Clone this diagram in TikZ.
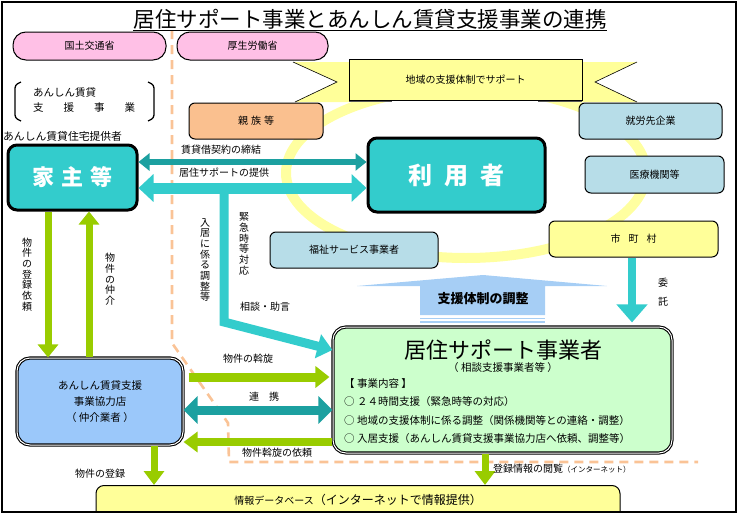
\documentclass[tikz,border=0pt]{standalone}
\usepackage{fontspec}
\setmainfont{Noto Sans CJK JP}
\usetikzlibrary{arrows.meta,calc}
\definecolor{pinkbox}{RGB}{255,192,230}
\definecolor{peach}{RGB}{250,192,143}
\definecolor{grayblue}{RGB}{183,221,232}
\definecolor{lyellow}{RGB}{255,255,153}
\definecolor{ringyel}{RGB}{255,255,160}
\definecolor{tealA}{RGB}{51,204,204}
\definecolor{tealB}{RGB}{28,160,160}
\definecolor{lgreen}{RGB}{204,255,204}
\definecolor{lblue}{RGB}{155,200,250}
\definecolor{adjblue}{RGB}{166,206,245}
\definecolor{ygreen}{RGB}{153,204,0}
\definecolor{dashor}{RGB}{250,195,150}
\begin{document}
\begin{tikzpicture}[x=1pt,y=-1pt,
  box/.style={draw=black, line width=1pt, rounded corners=6pt, inner sep=0pt, align=center, font=\fontsize{10}{12}\selectfont},
  pinkb/.style={box, fill=pinkbox, rounded corners=13pt, minimum width=#1, minimum height=28pt},
  bigbox/.style={draw=black, line width=3pt, rounded corners=9pt, fill=tealA, text=white, inner sep=0pt, font=\fontsize{22}{24}\selectfont\bfseries},
  dbl/.style={draw=black, line width=1.1pt, double=white, double distance=1pt, rounded corners=13pt, inner sep=0pt, align=center},
  lbl/.style={inner sep=0pt, font=\fontsize{10}{12}\selectfont},
  vlbl/.style={inner sep=0pt, align=center, font=\fontsize{10}{10.7}\selectfont},
  garrow/.style={draw=ygreen, line width=#1},
  tip/.style 2 args={-{Triangle[width=#1,length=#2]}},
  dtip/.style 2 args={{Triangle[width=#1,length=#2]}-{Triangle[width=#1,length=#2]}},
]
\useasboundingbox (0,0) rectangle (739,514);

% supporting ring
\draw[ringyel, line width=10pt] (466,173) ellipse [x radius=180, y radius=85];

% dashed boundary
\draw[dashor, line width=2.6pt, dash pattern=on 9pt off 6pt] (172,30) -- (172,343) -- (228,423) -- (229,462) -- (698,462);

% title
\node[inner sep=0pt, font=\fontsize{21.5}{24}\selectfont] (title) at (370,19) {居住サポート事業とあんしん賃貸支援事業の連携};
\draw[line width=1pt] ([yshift=-3pt]title.base west) -- ([yshift=-3pt]title.base east);

% ministries
\node[pinkb=153pt] (mlit) at (89.5,46) {国土交通省};
\node[pinkb=151pt] (mhlw) at (252.5,46) {厚生労働省};

% bracket text
\node[inner sep=0pt, anchor=west, align=left, font=\fontsize{10.5}{15.5}\selectfont] (anshin) at (33,100) {あんしん賃貸\\支\hspace{20pt}援\hspace{20pt}事\hspace{20pt}業};
\draw[line width=1.3pt, rounded corners=3pt] (21,82) -- (15,85) -- (15,118) -- (21,121);
\draw[line width=1.3pt, rounded corners=3pt] (148,82) -- (154,85) -- (154,118) -- (148,121);
\node[inner sep=0pt, anchor=west, font=\fontsize{10.8}{12}\selectfont] (teikyo) at (3,136) {あんしん賃貸住宅提供者};

% ribbon
\fill[lyellow] (293,62) -- (349,62) -- (349,102) -- (295,102) -- (337,82) -- cycle;
\fill[lyellow] (582,62) -- (637,62) -- (595,82) -- (637,102) -- (582,102) -- cycle;
\draw[line width=0.6pt] (293,62) -- (337,82) -- (295,102);
\draw[line width=0.6pt] (637,62) -- (595,82) -- (637,102);
\draw[line width=1pt, gray!70!black] (349,101) -- (392,101) (538,101) -- (582,101);
\node[box, fill=lyellow, rounded corners=0pt, minimum width=233pt, minimum height=41pt] (ribbon) at (465.5,79.5) {地域の支援体制でサポート};

% surrounding boxes
\node[box, fill=peach, minimum width=134pt, minimum height=36pt] (shinzoku) at (256,121) {親\hspace{3pt}族\hspace{3pt}等};
\node[box, fill=grayblue, minimum width=143pt, minimum height=36pt] (shuro) at (650.5,121) {就労先企業};
\node[box, fill=grayblue, minimum width=139pt, minimum height=37pt] (iryo) at (654.5,174.5) {医療機関等};
\node[box, fill=lyellow, minimum width=169pt, minimum height=36pt] (shichoson) at (633.5,239) {市\hspace{8pt}町\hspace{8pt}村};
\node[box, fill=grayblue, minimum width=168pt, minimum height=36pt] (fukushi) at (354,250) {福祉サービス事業者};

% main boxes
\node[bigbox, minimum width=129pt, minimum height=65pt] (yanushi) at (72.5,177.5) {家\hspace{7pt}主\hspace{7pt}等};
\node[bigbox, minimum width=177pt, minimum height=74pt, font=\fontsize{24}{26}\selectfont\bfseries] (riyo) at (456.5,175) {利\hspace{12pt}用\hspace{12pt}者};

\node[dbl, fill=lgreen, minimum width=339pt, minimum height=126pt] (kyoju) at (502.5,390) {};
\node[inner sep=0pt, font=\fontsize{22}{24}\selectfont] (kyojuT) at (503,350) {居住サポート事業者};
\node[inner sep=0pt, font=\fontsize{10.5}{12}\selectfont] (kyojuS) at (503,368) {（ 相談支援事業者等 ）};
\node[inner sep=0pt, anchor=west, align=left, font=\fontsize{10.5}{18.4}\selectfont] (kyojuL) at (344,411) {【 事業内容 】\\○ ２４時間支援（緊急時等の対応）\\○ 地域の支援体制に係る調整（関係機関等との連絡・調整）\\○ 入居支援（あんしん賃貸支援事業協力店へ依頼、調整等）};

\node[dbl, fill=lblue, minimum width=166pt, minimum height=87pt, font=\fontsize{10.5}{16}\selectfont] (kyoryoku) at (100,401.5) {あんしん賃貸支援\\事業協力店\\（ 仲介業者 ）};

\begin{scope}
\clip (0,0) rectangle (739,511);
\node[box, fill=lyellow, rounded corners=8pt, minimum width=524pt, minimum height=46pt, anchor=north] (db) at (358,485) {};
\end{scope}
\node[inner sep=0pt] (dbT) at (358,500) {{\fontsize{10}{12}\selectfont 情報データベース}{\fontsize{12}{14}\selectfont （インターネットで情報提供）}};

% arrows yanushi - riyo
\coordinate (br) at (224,188);
\draw[tealA, line width=9pt, line join=miter, tip={24pt}{15pt}] (br) -- (224,322) -- (kyoju.west |- 0,350);
\draw[tealB, line width=6pt, dtip={17pt}{11pt}] (yanushi.east |- 0,162) -- (riyo.west |- 0,162);
\draw[tealA, line width=11pt, dtip={27pt}{15pt}] (yanushi.east |- 0,188) -- (riyo.west |- 0,188);
\node[lbl] (l1) at (221,150) {賃貸借契約の締結};
\node[lbl] (l2) at (224,173) {居住サポートの提供};
\node[vlbl] (l3) at (205,260) {入\\居\\に\\係\\る\\調\\整\\等};
\node[vlbl] (l4) at (244,244) {緊\\急\\時\\等\\対\\応};
\node[lbl] (l5) at (265,307) {相談・助言};

% itaku
\draw[tealA, line width=8pt, tip={30pt}{18pt}] (shichoson.south -| 632,0) -- ([yshift=4pt]kyoju.north -| 632,0);
\node[vlbl, font=\fontsize{10}{19}\selectfont] (itaku) at (663,292) {委\\託};

% adjustment arrow
\fill[adjblue] (357,286) -- (483,275) -- (607,286) -- (545,286) -- (545,315) -- (420,315) -- (420,286) -- cycle;
\draw[adjblue, line width=1.3pt] (420,318.5) -- (545,318.5) (420,322) -- (545,322);
\node[inner sep=0pt, font=\fontsize{13}{15}\selectfont\bfseries] (adj) at (483,299) {支援体制の調整};

% green arrows left
\draw[garrow=7pt, tip={20pt}{13pt}] (yanushi.south -| 48,0) -- (kyoryoku.north -| 48,0);
\draw[garrow=7pt, tip={20pt}{13pt}] (kyoryoku.north -| 89,0) -- (yanushi.south -| 89,0);
\node[vlbl] (l6) at (27,274.5) {物\\件\\の\\登\\録\\依\\頼};
\node[vlbl] (l7) at (110,279.5) {物\\件\\の\\仲\\介};

\draw[garrow=9pt, tip={21pt}{14pt}] ([xshift=5pt]kyoryoku.east |- 0,377) -- ([xshift=-3pt]kyoju.west |- 0,377);
\draw[tealB, line width=9pt, dtip={27pt}{14pt}] (kyoryoku.east |- 0,410) -- (kyoju.west |- 0,410);
\draw[garrow=8pt, tip={20pt}{14pt}] (kyoju.west |- 0,442) -- (kyoryoku.east |- 0,442);
\node[lbl] (l8) at (248,359) {物件の斡旋};
\node[lbl] (l9) at (264,397) {連\hspace{10pt}携};
\node[lbl] (l10) at (277,453) {物件斡旋の依頼};

\draw[garrow=7pt, tip={20pt}{14pt}] (kyoryoku.south -| 154,0) -- (db.north -| 154,0);
\draw[garrow=7pt, tip={20pt}{14pt}] (kyoju.south -| 485,0) -- (db.north -| 485,0);
\node[lbl] (l11) at (100,474) {物件の登録};
\node[lbl, anchor=west] (l12) at (493,469) {登録情報の閲覧{\fontsize{7.5}{9}\selectfont （インターネット）}};

% frame
\draw[line width=1.2pt] (2,2) rectangle (736,512);
\end{tikzpicture}
\end{document}
